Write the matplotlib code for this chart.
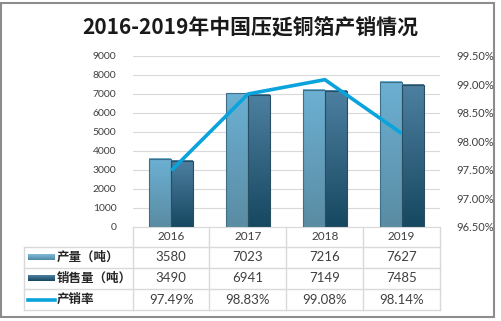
import matplotlib
matplotlib.use("Agg")
import matplotlib.pyplot as plt
import numpy as np
from matplotlib.patches import Rectangle

plt.rcParams['font.family'] = ['Noto Sans CJK SC', 'DejaVu Sans']
NUM = ['Lato', 'Noto Sans CJK SC']

#########  数据  #########
years = ["2016", "2017", "2018", "2019"]
output = [3580, 7023, 7216, 7627]        # 产量（吨）
sales = [3490, 6941, 7149, 7485]         # 销售量（吨）
rate = [97.49, 98.83, 99.08, 98.14]      # 产销率 %
row_names = ["产量（吨）", "销售量（吨）", "产销率"]
title = "2016-2019年中国压延铜箔产销情况"

W, H = 501, 321
fig = plt.figure(figsize=(W / 100, H / 100), dpi=100)

# 全图像素坐标的底层，用来画边框和表格
ov = fig.add_axes([0, 0, 1, 1])
ov.set_xlim(0, W)
ov.set_ylim(H, 0)
ov.axis('off')
ov.add_patch(Rectangle((1.5, 2.5), 493, 314.5, fill=False, ec='#8c8c8c', lw=1.5))

# 主图区
x0, x1, ytop, ybot = 133, 440, 55.7, 227
ax = fig.add_axes([x0 / W, 1 - ybot / H, (x1 - x0) / W, (ybot - ytop) / H])
ax.patch.set_visible(False)
x = np.arange(len(years))
bw = 0.286

def grad_bar(ax, xl, h, top, bottom, edge):
    g = np.linspace(0, 1, 64).reshape(-1, 1)
    c0 = np.array(matplotlib.colors.to_rgb(top))
    c1 = np.array(matplotlib.colors.to_rgb(bottom))
    img = c0 * (1 - g)[..., None] + c1 * g[..., None]
    img = img.reshape(64, 1, 3)
    ax.imshow(img, extent=[xl, xl + bw, 0, h], aspect='auto', zorder=2,
              origin='upper', interpolation='bilinear')
    ax.add_patch(Rectangle((xl, 0), bw, h, fill=False, ec=edge, lw=0.8, zorder=3))

for i in range(len(years)):
    grad_bar(ax, x[i] - bw, output[i], '#6cb0d3', '#5a8ca3', '#3f6f88')
    grad_bar(ax, x[i], sales[i], '#4d7fa0', '#174861', '#2a4d62')

ax.set_xlim(-0.5, len(years) - 0.5)
ax.set_ylim(0, 9000)
ax.set_yticks(range(0, 9001, 1000))
ax.yaxis.grid(True, color='#d9d9d9', lw=0.8, zorder=0)
ax.set_axisbelow(True)
ax.set_xticks([])
for s in ['top', 'right', 'left']:
    ax.spines[s].set_visible(False)
ax.spines['bottom'].set_color('#d9d9d9')
ax.tick_params(axis='y', length=0, pad=12, labelsize=7.5, labelcolor='#404040')
for t in ax.get_yticklabels():
    t.set_family(NUM)

ax2 = ax.twinx()
ax2.plot(x, rate, color='#0aa3dc', lw=2.6, solid_capstyle='butt', zorder=5)
ax2.set_ylim(96.5, 99.5)
ax2.set_yticks(np.arange(96.5, 99.51, 0.5))
ax2.set_yticklabels(["%.2f%%" % v for v in np.arange(96.5, 99.51, 0.5)])
for s in ax2.spines.values():
    s.set_visible(False)
ax2.tick_params(axis='y', length=0, pad=12, labelsize=8, labelcolor='#404040')
for t in ax2.get_yticklabels():
    t.set_family(NUM)

fig.text(0.5, 1 - 28 / H, title, ha='center', va='center', fontsize=15,
         fontweight='bold', color='#1a1a1a')

# 数据表
lc = '#d9d9d9'
cols = [133, 209.5, 286.5, 363, 440]
rows = [227, 246.5, 267.5, 289, 310]
for yy in rows[1:]:
    ov.plot([24, 440], [yy, yy], color=lc, lw=1)
for xx in cols:
    ov.plot([xx, xx], [227, 310], color=lc, lw=1)
ov.plot([24, 24], [246.5, 310], color=lc, lw=1)

tc = '#404040'
for j, yr in enumerate(years):
    cx = (cols[j] + cols[j + 1]) / 2
    ov.text(cx, (rows[0] + rows[1]) / 2, yr, ha='center', va='center', fontsize=8.5, color=tc, family=NUM)
    ov.text(cx, (rows[1] + rows[2]) / 2, str(output[j]), ha='center', va='center', fontsize=9.5, color=tc, family=NUM)
    ov.text(cx, (rows[2] + rows[3]) / 2, str(sales[j]), ha='center', va='center', fontsize=9.5, color=tc, family=NUM)
    ov.text(cx, (rows[3] + rows[4]) / 2, "%.2f%%" % rate[j], ha='center', va='center', fontsize=9.5, color=tc, family=NUM)

# 图例图标
def legend_rect(yc, top, bottom):
    g = np.linspace(0, 1, 16).reshape(-1, 1)
    c0 = np.array(matplotlib.colors.to_rgb(top))
    c1 = np.array(matplotlib.colors.to_rgb(bottom))
    img = (c0 * (1 - g)[..., None] + c1 * g[..., None]).reshape(16, 1, 3)
    ov.imshow(img, extent=[28, 55, yc + 3, yc - 3], aspect='auto', zorder=3)

legend_rect((rows[1] + rows[2]) / 2, '#7fbcd8', '#4f88a6')
legend_rect((rows[2] + rows[3]) / 2, '#4d7fa0', '#174861')
ov.plot([28, 55], [(rows[3] + rows[4]) / 2] * 2, color='#0aa3dc', lw=2.6, zorder=3)
ov.set_xlim(0, W)
ov.set_ylim(H, 0)
for k, name in enumerate(row_names):
    ov.text(57, (rows[k + 1] + rows[k + 2]) / 2, name, ha='left', va='center',
            fontsize=9, color='#262626', fontweight='bold')

fig.savefig("out.png", dpi=100)
